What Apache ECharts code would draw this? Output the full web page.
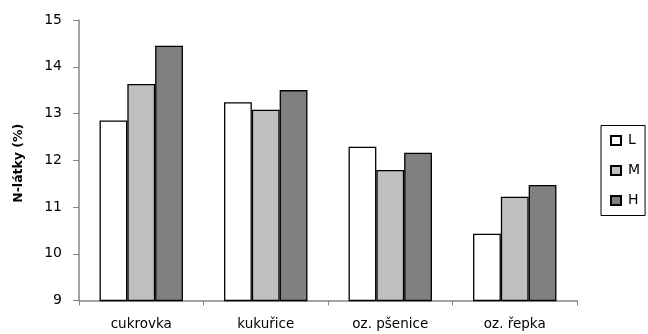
<!DOCTYPE html>
<html>
<head>
<meta charset="utf-8">
<script src="https://cdn.jsdelivr.net/npm/echarts@6/dist/echarts.min.js"></script>
<style>
  html, body { margin: 0; padding: 0; background: #fff; }
  #chart { width: 648px; height: 334px; }
</style>
</head>
<body>
<div id="chart"></div>
<script>
// Crop categories and nitrogen substance content per intensity level
const categories = ['cukrovka', 'kukuřice', 'oz. pšenice', 'oz. řepka'];
const seriesNames = ['L', 'M', 'H'];
const valuesL = [12.85, 13.24, 12.29, 10.43];
const valuesM = [13.63, 13.08, 11.79, 11.22];
const valuesH = [14.45, 13.50, 12.16, 11.47];
const fills = ['#ffffff', '#c0c0c0', '#808080'];

const font = '"DejaVu Sans", Verdana, sans-serif';
const axisGray = '#868686';

const chart = echarts.init(document.getElementById('chart'), null, { renderer: 'canvas' });

const seriesData = [valuesL, valuesM, valuesH];

chart.setOption({
  animation: false,
  backgroundColor: '#ffffff',
  grid: { left: 79, right: 71, top: 20, bottom: 33.5 },
  legend: {
    orient: 'vertical',
    left: 601,
    top: 125.5,
    padding: [8, 5, 8, 9],
    itemGap: 16,
    itemWidth: 10,
    itemHeight: 9,
    icon: 'rect',
    borderColor: '#000000',
    borderWidth: 1,
    textStyle: { fontFamily: font, fontSize: 14, color: '#000', padding: [0, 0, 0, 2] },
    data: seriesNames
  },
  xAxis: {
    type: 'category',
    data: categories,
    axisLine: { lineStyle: { color: axisGray, width: 1.5 } },
    axisTick: { show: true, length: 5, alignWithLabel: false, lineStyle: { color: axisGray } },
    axisLabel: { fontFamily: font, fontSize: 13.5, color: '#000', margin: 17 }
  },
  yAxis: {
    type: 'value',
    min: 9,
    max: 15,
    interval: 1,
    name: 'N-látky (%)',
    nameLocation: 'middle',
    nameGap: 54,
    nameRotate: 90,
    nameTextStyle: { fontFamily: font, fontSize: 12.5, fontWeight: 'bold', color: '#000', padding: [0, 0, 0, -6] },
    axisLine: { show: true, lineStyle: { color: axisGray, width: 1.5 } },
    axisTick: { show: true, length: 6, lineStyle: { color: axisGray } },
    splitLine: { show: false },
    axisLabel: { fontFamily: font, fontSize: 14, color: '#000', margin: 17 }
  },
  series: seriesNames.map((name, i) => ({
    name: name,
    type: 'bar',
    data: seriesData[i],
    barGap: '0%',
    barCategoryGap: '33%',
    itemStyle: { color: fills[i], borderColor: '#000000', borderWidth: 1.3 }
  }))
});
</script>
</body>
</html>
